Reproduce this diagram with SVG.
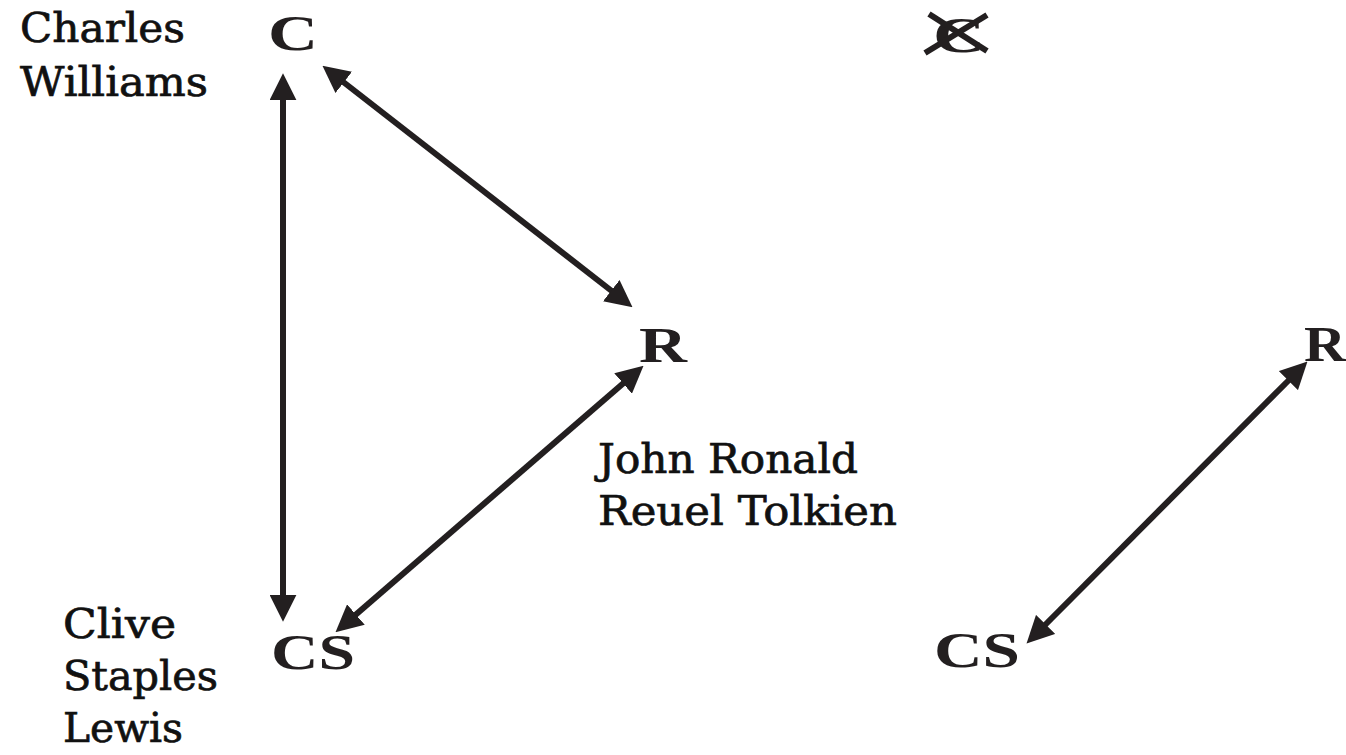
<svg xmlns="http://www.w3.org/2000/svg" width="1346" height="755" viewBox="0 0 1346 755">
  <style>
    .lbl { font-family: "DejaVu Serif", "Liberation Serif", serif; font-size: 41px; fill: #111; stroke: #111; stroke-width: 0.7px; }
    .ltr { font-family: "Liberation Serif", "DejaVu Serif", serif; font-weight: bold; font-size: 51px; fill: #231f20; }
    .con { stroke: #231f20; stroke-width: 6; fill: none; marker-start: url(#ah); marker-end: url(#ah); }
    .cross { stroke: #231f20; stroke-width: 6; }
  </style>
  <defs>
    <marker id="ah" markerUnits="userSpaceOnUse" markerWidth="27" markerHeight="27" viewBox="0 0 24 24" refX="2" refY="12" orient="auto-start-reverse">
      <path d="M0,0 L24,12 L0,24 z" fill="#231f20"/>
    </marker>
  </defs>
  <rect width="1346" height="755" fill="#ffffff"/>

  <g id="connectors">
    <line class="con" x1="283" y1="98" x2="283" y2="597"/>
    <line class="con" x1="342" y1="81" x2="613" y2="292"/>
    <line class="con" x1="624.8" y1="382" x2="354.2" y2="616"/>
    <line class="con" x1="1290" y1="379" x2="1044" y2="626"/>
  </g>

  <g id="label-charles">
    <text class="lbl" x="20" y="42" textLength="165" lengthAdjust="spacingAndGlyphs">Charles</text>
    <text class="lbl" x="20" y="96" textLength="188" lengthAdjust="spacingAndGlyphs">Williams</text>
  </g>
  <g id="node-c">
    <text class="ltr" x="268" y="50" textLength="50" lengthAdjust="spacingAndGlyphs">C</text>
  </g>
  <g id="node-r">
    <text class="ltr" x="639" y="362" textLength="48" lengthAdjust="spacingAndGlyphs">R</text>
  </g>
  <g id="label-tolkien">
    <text class="lbl" x="598" y="473" textLength="260" lengthAdjust="spacingAndGlyphs">John Ronald</text>
    <text class="lbl" x="598" y="525" textLength="299" lengthAdjust="spacingAndGlyphs">Reuel Tolkien</text>
  </g>
  <g id="node-cs">
    <text class="ltr" x="271" y="669" textLength="84" lengthAdjust="spacingAndGlyphs">CS</text>
  </g>
  <g id="label-lewis">
    <text class="lbl" x="63" y="638" textLength="113" lengthAdjust="spacingAndGlyphs">Clive</text>
    <text class="lbl" x="63" y="690" textLength="155" lengthAdjust="spacingAndGlyphs">Staples</text>
    <text class="lbl" x="63" y="742" textLength="120" lengthAdjust="spacingAndGlyphs">Lewis</text>
  </g>

  <g id="node-c-crossed">
    <text class="ltr" x="933" y="52" textLength="52" lengthAdjust="spacingAndGlyphs">C</text>
    <line class="cross" x1="925" y1="53" x2="987" y2="15"/>
    <line class="cross" x1="929" y1="14" x2="987" y2="51"/>
  </g>
  <g id="node-r2">
    <text class="ltr" x="1304" y="361" textLength="42" lengthAdjust="spacingAndGlyphs">R</text>
  </g>
  <g id="node-cs2">
    <text class="ltr" x="934" y="667" textLength="86" lengthAdjust="spacingAndGlyphs">CS</text>
  </g>
</svg>
